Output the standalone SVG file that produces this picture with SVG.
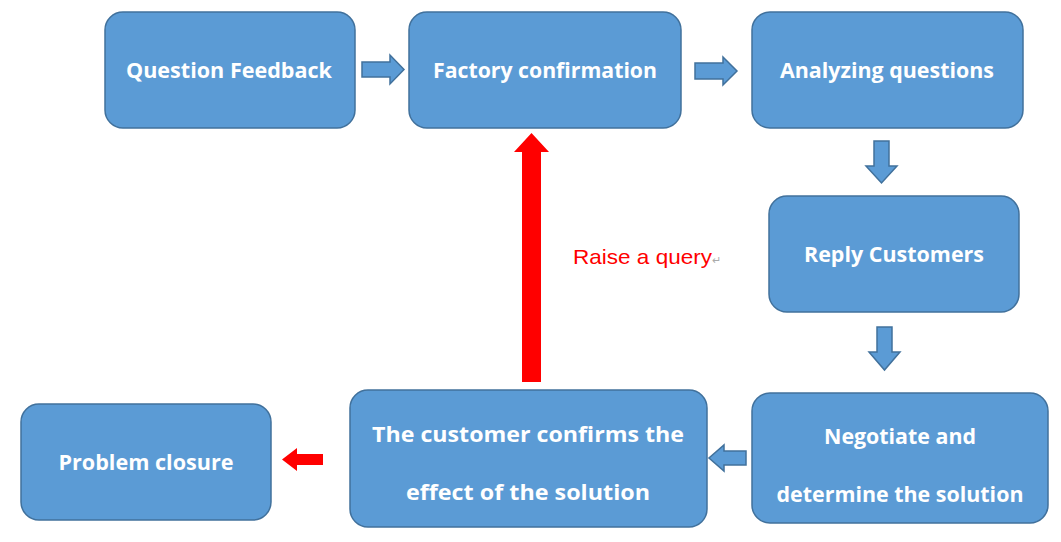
<svg xmlns="http://www.w3.org/2000/svg" width="1061" height="542" viewBox="0 0 1061 542">
<style>
.box{fill:#5B9BD5;stroke:#41719C;stroke-width:1.5}
.t{fill:#fff;font-family:"Open Sans",sans-serif;font-weight:bold;font-size:21.5px;text-anchor:middle}
.ba{fill:#5B9BD5;stroke:#41719C;stroke-width:1.5}
.ra{fill:#FF0000}
</style>
<rect width="1061" height="542" fill="#fff"/>
<g id="n1"><rect class="box" x="105" y="12" width="250" height="116" rx="18"/><text class="t" x="229" y="78" textLength="206" lengthAdjust="spacingAndGlyphs">Question Feedback</text></g>
<g id="n2"><rect class="box" x="409" y="12" width="272" height="116" rx="18"/><text class="t" x="545" y="78" textLength="224" lengthAdjust="spacingAndGlyphs">Factory confirmation</text></g>
<g id="n3"><rect class="box" x="752" y="12" width="271" height="116" rx="18"/><text class="t" x="887" y="78" textLength="214" lengthAdjust="spacingAndGlyphs">Analyzing questions</text></g>
<g id="n4"><rect class="box" x="769" y="196" width="250" height="116" rx="18"/><text class="t" x="894" y="262" textLength="180" lengthAdjust="spacingAndGlyphs">Reply Customers</text></g>
<g id="n5"><rect class="box" x="752" y="393" width="296" height="130" rx="18"/><text class="t" x="900" y="444" textLength="152" lengthAdjust="spacingAndGlyphs">Negotiate and</text><text class="t" x="900" y="502" textLength="247" lengthAdjust="spacingAndGlyphs">determine the solution</text></g>
<g id="n6"><rect class="box" x="350" y="390" width="357" height="137" rx="18"/><text class="t" x="528" y="442" textLength="312" lengthAdjust="spacingAndGlyphs">The customer confirms the</text><text class="t" x="528" y="500" textLength="244" lengthAdjust="spacingAndGlyphs">effect of the solution</text></g>
<g id="n7"><rect class="box" x="21" y="404" width="250" height="116" rx="18"/><text class="t" x="146" y="470" textLength="175" lengthAdjust="spacingAndGlyphs">Problem closure</text></g>
<g id="connectors">
<polygon class="ba" points="362,62 390,62 390,55 404,69.5 390,84 390,77 362,77"/>
<polygon class="ba" points="695,63 723,63 723,57 737,71 723,85 723,79 695,79"/>
<polygon class="ba" points="874,141 889,141 889,166 897,166 881.5,183 866,166 874,166"/>
<polygon class="ba" points="877,327 892,327 892,352 900,352 884.5,370 869,352 877,352"/>
<polygon class="ba" points="746,451 724,451 724,445 709,458 724,471 724,465 746,465"/>
<polygon class="ra" points="323,454 297,454 297,448 282,459.5 297,471 297,465 323,465"/>
<polygon class="ra" points="522,382 541,382 541,152 549,152 531.5,133 514,152 522,152"/>
</g>
<text x="573" y="264" font-family="'Liberation Sans',sans-serif" font-size="21" fill="#FF0000"><tspan textLength="139" lengthAdjust="spacingAndGlyphs">Raise a query</tspan><tspan fill="#aaa" font-size="11">↵</tspan></text>
</svg>
